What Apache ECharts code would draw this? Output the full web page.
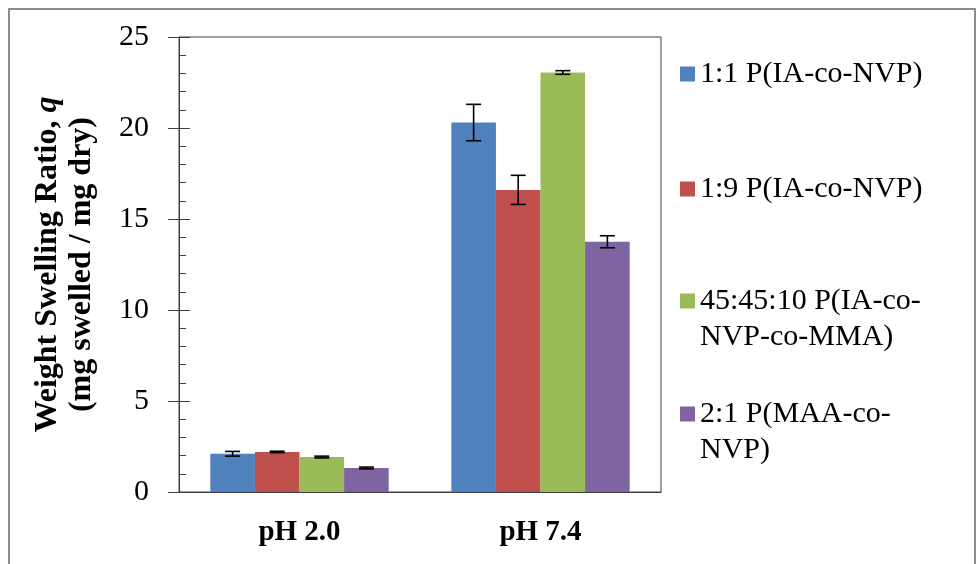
<!DOCTYPE html>
<html>
<head>
<meta charset="utf-8">
<script src="https://cdn.jsdelivr.net/npm/echarts@6/dist/echarts.min.js"></script>
<style>
  html, body { margin: 0; padding: 0; background: #fff; }
  #chart { width: 977px; height: 564px; }
</style>
</head>
<body>
<div id="chart"></div>
<script>
var categories = ['pH 2.0', 'pH 7.4'];
var seriesNames = ['1:1 P(IA-co-NVP)', '1:9 P(IA-co-NVP)', '45:45:10 P(IA-co-NVP-co-MMA)', '2:1 P(MAA-co-NVP)'];
var colors = ['#4F81BD', '#C0504D', '#9BBB59', '#8064A2'];

// mean swelling ratio per series (pH 2.0, pH 7.4)
var ratio11 = [2.10, 20.30];
var ratio19 = [2.20, 16.60];
var ratioTer = [1.92, 23.05];
var ratioMaa = [1.32, 13.75];
// error bar half-widths
var err11 = [0.13, 1.00];
var err19 = [0.04, 0.80];
var errTer = [0.05, 0.10];
var errMaa = [0.05, 0.33];

var values = [ratio11, ratio19, ratioTer, ratioMaa];
var errors = [err11, err19, errTer, errMaa];

var yTicks = [0, 5, 10, 15, 20, 25];

var FONT = 'Liberation Serif';
var GAP = 0.26;

var myChart = echarts.init(document.getElementById('chart'));

function errRender(idx){
	return function(params, api){
		var c = api.value(0), v = api.value(1), e = api.value(2);
		var band = api.size([1, 0])[0];
		var bw = band * (1 - GAP) / 4;
		var x = api.coord([c, v])[0] + (idx - 1.5) * bw;
		var hi = api.coord([c, v + e])[1];
		var lo = api.coord([c, v - e])[1];
		var cap = 7.5;
		var st = { stroke: '#000', lineWidth: 1.6 };
		return {
			type: 'group',
			children: [
				{ type: 'line', shape: { x1: x, y1: hi, x2: x, y2: lo }, style: st },
				{ type: 'line', shape: { x1: x - cap, y1: hi, x2: x + cap, y2: hi }, style: st },
				{ type: 'line', shape: { x1: x - cap, y1: lo, x2: x + cap, y2: lo }, style: st }
			]
		};
	};
}

var series = [];
seriesNames.forEach(function(name, i){
	series.push({
		name: name,
		type: 'bar',
		barGap: 0,
		barCategoryGap: (GAP * 100) + '%',
		itemStyle: { color: colors[i] },
		data: values[i]
	});
});
seriesNames.forEach(function(name, i){
	series.push({
		type: 'custom',
		z: 5,
		silent: true,
		renderItem: errRender(i),
		data: values[i].map(function(v, k){ return [k, v, errors[i][k]]; })
	});
});

// one legend per entry; a blank leading line keeps the marker on the first text line
var legendTops = [56, 171, 247, 360];
var legendText = {
	'45:45:10 P(IA-co-NVP-co-MMA)': ' \n45:45:10 P(IA-co-\nNVP-co-MMA)',
	'2:1 P(MAA-co-NVP)': ' \n2:1 P(MAA-co-\nNVP)'
};
var legends = seriesNames.map(function(name, i){
	return {
		data: [name],
		left: 680,
		top: legendTops[i],
		padding: 0,
		itemWidth: 15,
		itemHeight: 15,
		icon: 'rect',
		selectedMode: false,
		formatter: function(n){ return legendText[n] || n; },
		textStyle: {
			fontFamily: FONT,
			fontSize: 30,
			color: '#000',
			lineHeight: 36
		}
	};
});

var yMax = yTicks[yTicks.length - 1];
var yStep = yTicks[1] - yTicks[0];

var option = {
	animation: false,
	backgroundColor: '#fff',
	legend: legends,
	grid: {
		left: 179, right: 316, top: 37, bottom: 72,
		show: true, borderColor: '#404040', borderWidth: 1
	},
	xAxis: {
		type: 'category',
		data: categories,
		axisLine: { lineStyle: { color: '#404040', width: 1 } },
		axisTick: { show: false },
		axisLabel: {
			margin: 26,
			fontFamily: FONT, fontSize: 29, fontWeight: 'bold', color: '#000'
		}
	},
	yAxis: [
		{
			type: 'value',
			position: 'left',
			min: yTicks[0], max: yMax, interval: yStep,
			name: '{b|Weight Swelling Ratio, }{q|q}\n{b|(mg swelled / mg dry)}',
			nameLocation: 'middle',
			nameGap: 80,
			nameTextStyle: {
				rich: {
					b: { fontFamily: FONT, fontSize: 32, fontWeight: 'bold', color: '#000', lineHeight: 34 },
					q: { fontFamily: FONT, fontSize: 32, fontWeight: 'bold', fontStyle: 'italic', color: '#000', lineHeight: 34 }
				}
			},
			axisLine: { show: true, lineStyle: { color: '#404040', width: 1 } },
			axisTick: { show: true, length: 11, lineStyle: { color: '#404040' } },
			splitLine: { show: false },
			axisLabel: { margin: 30, fontFamily: FONT, fontSize: 30, color: '#000' }
		},
		{
			type: 'value',
			position: 'left',
			offset: 0,
			min: yTicks[0], max: yMax, interval: yStep,
			axisLine: { show: false },
			axisTick: { show: true, inside: true, length: 11, lineStyle: { color: '#404040' } },
			minorTick: { show: true, splitNumber: 5, length: 7, lineStyle: { color: '#404040' } },
			splitLine: { show: false },
			axisLabel: { show: false }
		}
	],
	graphic: [{
		type: 'rect',
		silent: true,
		shape: { x: 9, y: 9, width: 966, height: 600 },
		style: { fill: 'none', stroke: '#8c8c8c', lineWidth: 2 }
	}],
	series: series
};
myChart.setOption(option);
</script>
</body>
</html>
